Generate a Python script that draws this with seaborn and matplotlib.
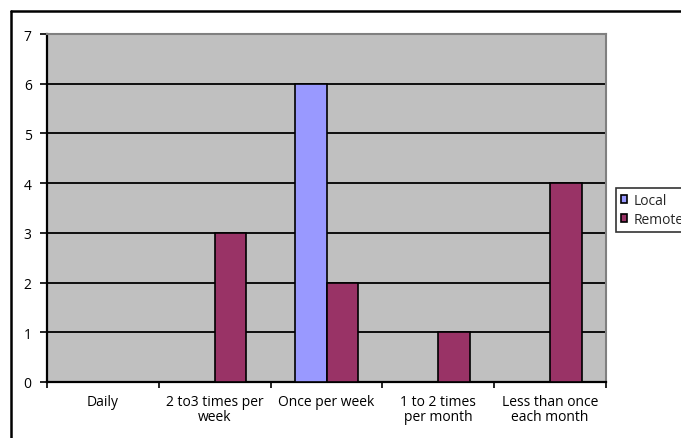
import matplotlib
matplotlib.use("Agg")
import matplotlib.pyplot as plt
import matplotlib.patches as mpatches
import matplotlib.lines as mlines
import seaborn as sns
import pandas as pd
import numpy as np

categories = ["Daily", "2 to3 times per\nweek", "Once per week",
              "1 to 2 times\nper month", "Less than once\neach month"]
local_values = [0, 0, 6, 0, 0]
remote_values = [0, 3, 2, 1, 4]
series_names = ["Local", "Remote"]

df = pd.DataFrame({
    "category": categories * 2,
    "count": local_values + remote_values,
    "series": [series_names[0]] * len(categories) + [series_names[1]] * len(categories),
})

sns.set_theme(style="white")
plt.rcParams["font.family"] = ["Open Sans", "DejaVu Sans"]

W, H = 681, 439
fig = plt.figure(figsize=(W / 100, H / 100), dpi=100)
fig.patch.set_facecolor("white")

# plot area in pixel coordinates
left, right, top, bottom = 47, 606, 35, 383
ax = fig.add_axes([left / W, 1 - bottom / H, (right - left) / W, (bottom - top) / H])
ax.set_facecolor("#C0C0C0")

palette = {"Local": "#9999FF", "Remote": "#993366"}
sns.barplot(data=df, x="category", y="count", hue="series", palette=palette,
            width=0.565, edgecolor="black", linewidth=1.2, saturation=1,
            dodge=True, ax=ax, legend=False, zorder=3)

ax.set_ylim(0, 7)
ax.set_xlim(-0.5, len(categories) - 0.5)
ax.set_yticks(range(0, 8))
ax.yaxis.grid(True, color="black", linewidth=1.3, zorder=1)
ax.set_axisbelow(True)
ax.set_xlabel("")
ax.set_ylabel("")

# category labels centred, tick marks on the category boundaries
ax.set_xticks(range(len(categories)))
ax.set_xticklabels(categories, fontsize=10, color="black", linespacing=1.0)
ax.tick_params(axis="x", which="major", length=0, pad=9)
ax.set_xticks(np.arange(-0.5, len(categories), 1.0), minor=True)
ax.tick_params(axis="x", which="minor", length=4, width=1.2, color="black", direction="out", bottom=True)
ax.tick_params(axis="y", length=5, width=1.2, color="black", direction="out", left=True,
               labelsize=10, labelcolor="black", pad=6)

for side in ["top", "right"]:
    ax.spines[side].set_color("#808080")
    ax.spines[side].set_linewidth(1.5)
for side in ["left", "bottom"]:
    ax.spines[side].set_color("black")
    ax.spines[side].set_linewidth(1.6)

# chart area border: top and left edges
border_kw = dict(transform=fig.transFigure, color="black", linewidth=1.8)
fig.add_artist(mlines.Line2D([11 / W, 1.0], [1 - 12 / H, 1 - 12 / H], **border_kw))
fig.add_artist(mlines.Line2D([11 / W, 11 / W], [0.0, 1 - 12 / H], **border_kw))

handles = [mpatches.Patch(facecolor=palette[n], edgecolor="black", linewidth=1.2, label=n)
           for n in series_names]
leg = fig.legend(handles=handles, loc="upper left",
                 bbox_to_anchor=(616 / W, 1 - 189 / H), frameon=True,
                 fontsize=10, handlelength=0.45, handleheight=0.45, handletextpad=0.5,
                 borderpad=0.35, labelspacing=0.3, borderaxespad=0, fancybox=False)
leg.get_frame().set_edgecolor("black")
leg.get_frame().set_linewidth(1.2)

fig.savefig("out.png", dpi=100)
